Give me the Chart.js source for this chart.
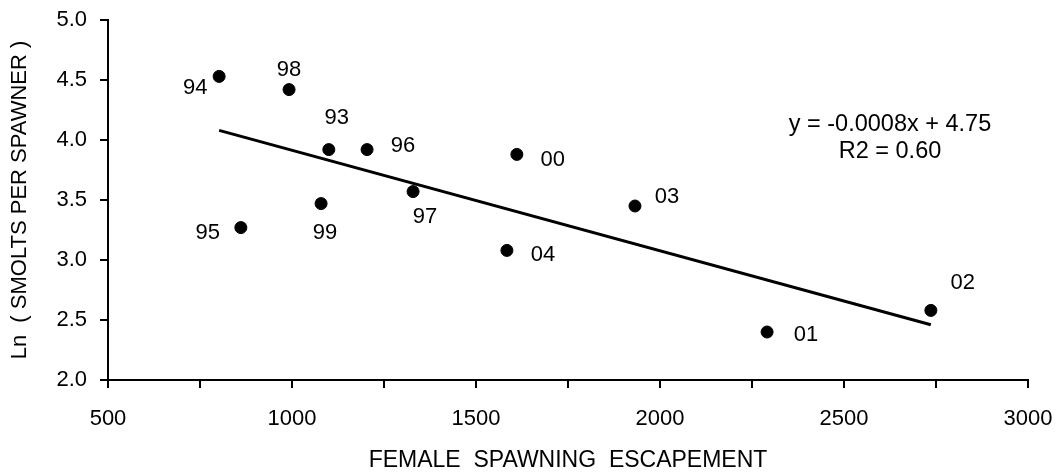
<!DOCTYPE html>
<html>
<head>
<meta charset="utf-8">
<script src="https://cdn.jsdelivr.net/npm/chart.js@4/dist/chart.umd.min.js"></script>
<style>
  html, body { margin: 0; padding: 0; background: #fff; }
  #wrap { width: 1058px; height: 476px; }
</style>
</head>
<body>
<div id="wrap"><canvas id="chart"></canvas></div>
<script>
// --- DATA ---
const years = ['94', '98', '93', '96', '99', '95', '97', '00', '04', '03', '02', '01'];
const escapement = [802, 992, 1100, 1204, 1079, 861, 1329, 1611, 1584, 1932, 2736, 2291];
const lnSmolts = [4.53, 4.42, 3.92, 3.92, 3.47, 3.27, 3.57, 3.88, 3.08, 3.45, 2.58, 2.40];

// trend line end points
const trendX = [802, 2736];
const trendY = [4.08, 2.46];

const equationLines = ['y = -0.0008x + 4.75', 'R2 = 0.60'];

// label offsets from each point (px), layout only
const labelOffsets = {
    '94': [-24, 12], '98': [0, -20], '93': [8, -32], '96': [36, -4],
    '99': [4, 29], '95': [-33, 5], '97': [12, 25], '00': [36, 6],
    '04': [36, 5], '03': [32, -9], '02': [32, -27], '01': [39, 3]
};

const FONT = '"Liberation Sans", Arial, sans-serif';
const FS = 22;

const pointLabels = {
    id: 'pointLabels',
    afterDatasetsDraw(chart) {
        const { ctx, scales: { x, y } } = chart;
        ctx.save();
        ctx.font = `${FS}px ${FONT}`;
        ctx.fillStyle = '#000';
        ctx.textAlign = 'center';
        ctx.textBaseline = 'middle';
        years.forEach((yr, i) => {
            const off = labelOffsets[yr] || [0, 0];
            ctx.fillText(yr, x.getPixelForValue(escapement[i]) + off[0], y.getPixelForValue(lnSmolts[i]) + off[1]);
        });

        // regression equation
        ctx.font = `23.5px ${FONT}`;
        const ex = x.getPixelForValue(2625);
        ctx.fillText(equationLines[0], ex, y.getPixelForValue(4.125));
        ctx.fillText(equationLines[1], ex, y.getPixelForValue(3.9));
        ctx.restore();
    }
};

const axisCommon = {
    grid: { display: true, drawOnChartArea: false, drawTicks: true, tickLength: 8, color: '#000', lineWidth: 2 },
    border: { display: true, color: '#000', width: 2 },
};

new Chart(document.getElementById('chart'), {
    type: 'scatter',
    data: {
        datasets: [
            {
                label: 'points',
                data: escapement.map((v, i) => ({ x: v, y: lnSmolts[i] })),
                backgroundColor: '#000',
                borderColor: '#000',
                pointRadius: 6,
                pointHoverRadius: 6
            },
            {
                type: 'line',
                label: 'trend',
                data: trendX.map((v, i) => ({ x: v, y: trendY[i] })),
                borderColor: '#000',
                borderWidth: 3,
                pointRadius: 0,
                fill: false
            }
        ]
    },
    options: {
        responsive: true,
        maintainAspectRatio: false,
        animation: false,
        layout: { padding: { top: 20, right: 30, left: 0, bottom: 0 } },
        plugins: { legend: { display: false }, tooltip: { enabled: false } },
        scales: {
            x: {
                ...axisCommon,
                type: 'linear',
                min: 500, max: 3000,
                afterFit: (s) => { s.height = 96; s.paddingLeft = 0; s.paddingRight = 0; },
                ticks: {
                    stepSize: 250,
                    padding: 18,
                    color: '#000',
                    font: { family: FONT, size: FS },
                    maxRotation: 0,
                    autoSkip: false,
                    callback: (v) => (v % 500 === 0 ? String(v) : '')
                },
                title: {
                    display: true,
                    text: 'FEMALE  SPAWNING  ESCAPEMENT',
                    color: '#000',
                    font: { family: FONT, size: 23 },
                    padding: { top: 0, bottom: 2 }
                }
            },
            y: {
                ...axisCommon,
                min: 2, max: 5,
                afterFit: (s) => { s.width = 108; s.paddingTop = 0; s.paddingBottom = 0; },
                ticks: {
                    stepSize: 0.5,
                    padding: 13,
                    color: '#000',
                    font: { family: FONT, size: FS },
                    callback: (v) => Number(v).toFixed(1)
                },
                title: {
                    display: true,
                    text: 'Ln  ( SMOLTS PER SPAWNER )',
                    color: '#000',
                    font: { family: FONT, size: FS },
                    padding: { top: 7, bottom: 0 }
                }
            }
        }
    },
    plugins: [pointLabels]
});
</script>
</body>
</html>
